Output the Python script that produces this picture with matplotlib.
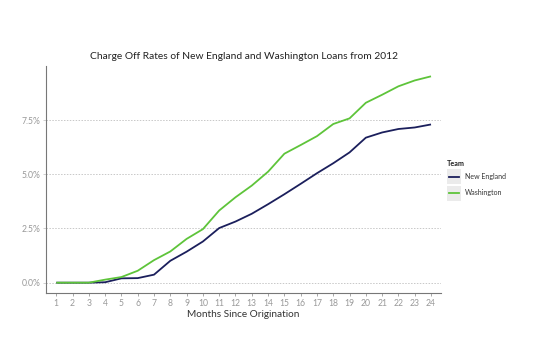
import matplotlib
matplotlib.use("Agg")
import matplotlib.pyplot as plt
from matplotlib.ticker import FuncFormatter
from matplotlib.legend_handler import HandlerLine2D
from matplotlib.patches import Rectangle
from matplotlib.lines import Line2D

months = list(range(1, 25))
new_england = [0.0, 0.0, 0.0, 0.02, 0.20, 0.21, 0.37, 1.01, 1.43, 1.90, 2.52, 2.82, 3.18, 3.62,
               4.08, 4.56, 5.05, 5.51, 6.01, 6.69, 6.93, 7.09, 7.16, 7.30]
washington = [0.0, 0.0, 0.0, 0.14, 0.26, 0.55, 1.04, 1.44, 2.02, 2.47, 3.33, 3.94, 4.48, 5.12,
              5.95, 6.35, 6.76, 7.32, 7.58, 8.30, 8.67, 9.06, 9.33, 9.52]
yticks = [0.0, 2.5, 5.0, 7.5]
title = "Charge Off Rates of New England and Washington Loans from 2012"
navy = "#1b1f5c"
green = "#5ec43a"

plt.rcParams['font.family'] = ['Lato', 'DejaVu Sans']
fig = plt.figure(figsize=(5.35, 3.43), dpi=100)
ax = fig.add_axes([0.0869, 0.1458, 0.737, 0.662])

ax.plot(months, new_england, color=navy, lw=1.3, label="New England", solid_capstyle='butt')
ax.plot(months, washington, color=green, lw=1.3, label="Washington", solid_capstyle='butt')

ax.set_xlim(0.4, 24.6)
ax.set_ylim(-0.476, 10.0)
ax.set_xticks(months)
ax.set_yticks(yticks)
ax.yaxis.set_major_formatter(FuncFormatter(lambda v, p: f"{v:.1f}%"))
ax.grid(axis='y', color='#c8c8c8', linestyle=(0, (1.5, 1.5)), lw=0.7)
ax.set_axisbelow(True)
for s in ['top', 'right']:
    ax.spines[s].set_visible(False)
for s in ['left', 'bottom']:
    ax.spines[s].set_color('#777777')
    ax.spines[s].set_linewidth(0.8)
ax.tick_params(axis='both', colors='#999999', labelsize=6.2, length=2.5, width=0.6, pad=2)
ax.tick_params(axis='y', colors='#c8c8c8', labelcolor='#999999')
ax.set_xlabel("Months Since Origination", fontsize=7.2, color='#333333', labelpad=1)
ax.set_title(title, fontsize=7.4, color='#222222', pad=5)


class BoxLineHandler(HandlerLine2D):
    def create_artists(self, legend, orig_handle, xdescent, ydescent, width, height, fontsize, trans):
        rect = Rectangle((-xdescent, -ydescent), width, height, facecolor='#ebebeb',
                         edgecolor='none', transform=trans)
        line = Line2D([-xdescent + 1.5, -xdescent + width - 1.5],
                      [-ydescent + height / 2] * 2, color=orig_handle.get_color(),
                      lw=orig_handle.get_linewidth(), transform=trans)
        return [rect, line]


handles, labels = ax.get_legend_handles_labels()
leg = ax.legend(handles, labels, title="Team", loc='upper left', bbox_to_anchor=(1.003, 0.605),
                frameon=False, fontsize=5, title_fontsize=5.2, handlelength=2.1, handleheight=2.9,
                borderaxespad=0.3, labelspacing=0.25, handletextpad=0.55,
                handler_map={Line2D: BoxLineHandler()})
leg.get_title().set_fontweight('bold')
leg._legend_box.align = "left"
for t in leg.get_texts():
    t.set_color('#333333')
leg.get_title().set_color('#222222')

fig.savefig("out.png", dpi=100)
